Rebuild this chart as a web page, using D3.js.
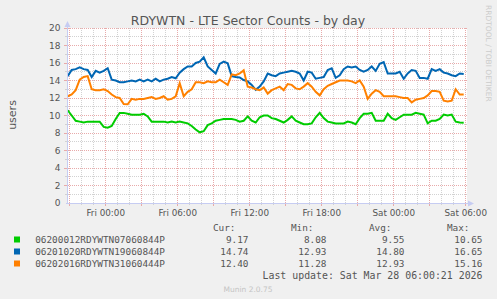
<!DOCTYPE html>
<html>
<head>
<meta charset="utf-8">
<script src="https://cdn.jsdelivr.net/npm/d3@7"></script>
<style>
body { margin: 0; background: #f0f0f0; }
svg { display: block; font-family: "DejaVu Sans", sans-serif; }
</style>
</head>
<body>
<div id="chart"></div>
<script>
// samples every 20 minutes, first one Thu 26 Mar 20:50 UTC
const firstSample = Date.UTC(2026, 2, 26, 20, 50);
const sampleStep = 20 * 60 * 1000;

const seriesNames = ['06200012RDYWTN07060844P', '06201020RDYWTN19060844P', '06202016RDYWTN31060444P'];
const seriesColors = ['#00cc00', '#0066b3', '#ff8000'];

const greenValues = [
    10.6, 10.0, 9.4, 9.3, 9.2, 9.3, 9.3, 9.3, 9.3, 8.7,
    8.6, 8.8, 9.6, 10.3, 10.3, 10.2, 10.1, 10.1, 10.1, 10.2,
    9.9, 9.3, 9.3, 9.3, 9.3, 9.2, 9.3, 9.2, 9.3, 9.2,
    9.1, 8.8, 8.4, 8.08, 8.2, 8.9, 9.1, 9.4, 9.5, 9.6,
    9.6, 9.6, 9.5, 9.3, 9.4, 9.9, 9.4, 9.2, 9.8, 10.0,
    10.0, 9.7, 9.6, 9.4, 9.2, 9.5, 9.9, 9.4, 9.2, 9.0,
    9.0, 9.1, 9.8, 10.3, 9.7, 9.3, 9.2, 9.1, 9.1, 9.1,
    9.3, 9.2, 9.0, 9.7, 10.2, 10.2, 10.3, 9.4, 9.4, 9.4,
    10.2, 9.7, 9.5, 9.8, 10.1, 10.1, 10.1, 10.3, 10.2, 10.1,
    9.1, 9.4, 9.4, 9.6, 10.1, 10.0, 10.1, 9.3, 9.2, 9.17
];

const blueValues = [
    14.5, 15.2, 15.3, 15.5, 15.3, 15.2, 14.4, 15.1, 14.9, 15.1,
    15.4, 14.1, 14.0, 13.8, 13.8, 13.9, 14.0, 13.9, 14.1, 13.9,
    14.1, 13.9, 14.2, 13.9, 14.1, 14.2, 14.4, 14.25, 14.9, 15.3,
    15.6, 15.6, 16.0, 16.15, 16.65, 15.6, 15.2, 14.8, 15.9, 16.15,
    15.96, 14.5, 14.4, 14.35, 14.06, 13.9, 13.5, 12.93, 13.3, 13.9,
    14.8, 14.6, 14.5, 14.8, 14.9, 15.0, 15.1, 15.0, 14.8, 14.0,
    15.0, 14.9, 14.2, 14.3, 14.4, 15.2, 15.4, 14.3, 14.6, 15.3,
    15.6, 15.5, 15.6, 15.2, 15.0, 15.2, 15.6, 15.1, 15.9, 16.1,
    14.8, 14.8, 14.8, 15.0, 14.2, 14.8, 15.2, 15.1, 14.3, 14.3,
    14.2, 15.3, 15.1, 15.3, 14.9, 14.8, 14.6, 14.5, 14.8, 14.74
];

const orangeValues = [
    12.2, 12.4, 12.9, 14.1, 14.4, 14.5, 13.0, 12.9, 12.9, 13.0,
    12.8, 12.4, 12.1, 12.0, 11.3, 11.28, 11.9, 11.8, 11.9, 11.9,
    12.0, 12.1, 11.9, 12.0, 12.2, 11.8, 11.9, 12.2, 13.7, 12.2,
    12.7, 13.0, 13.8, 13.8, 13.7, 13.9, 13.8, 13.8, 14.1, 13.8,
    13.5, 14.7, 14.6, 14.8, 15.16, 13.3, 13.2, 13.0, 12.9, 13.2,
    12.5, 12.9, 13.1, 13.3, 12.9, 13.6, 13.5, 13.1, 13.0, 13.3,
    13.7, 13.3, 12.7, 12.3, 13.0, 13.4, 13.6, 13.8, 14.0, 14.0,
    14.0, 13.9, 13.7, 14.0, 13.3, 11.9, 12.5, 12.9, 12.7, 12.2,
    12.2, 12.2, 12.2, 12.1, 12.0, 12.0, 11.5, 11.8, 11.9, 12.0,
    12.3, 12.8, 12.8, 12.7, 11.7, 11.6, 11.7, 13.0, 12.4, 12.4
];

const legendCur = ['9.17', '14.74', '12.40'];
const legendMin = ['8.08', '12.93', '11.28'];
const legendAvg = ['9.55', '14.80', '12.93'];
const legendMax = ['10.65', '16.65', '15.16'];

const yTickValues = [0, 2, 4, 6, 8, 10, 12, 14, 16, 18, 20];

const svgParams = {
    width: 497,
    height: 299,
    plot: {left: 67, right: 467, top: 28, bottom: 203},
    startTime: new Date(Date.UTC(2026, 2, 26, 20, 46, 30)),
    endTime: new Date(Date.UTC(2026, 2, 28, 6, 6, 30)),
    majorGrid: '#e8aaaa',
    minorGrid: '#d2d2d2',
    axisColor: '#c6ccf2',
    textColor: '#555555'
};

function createSVG(containerId) {
    return d3.select(containerId)
        .append("svg")
        .attr("width", svgParams.width)
        .attr("height", svgParams.height)
        .style("background", "#f0f0f0");
}

function crisp(v) {
    return Math.floor(v) + 0.5;
}

function drawGrid(svg, x, y) {
    const p = svgParams.plot;
    const grid = svg.append("g").attr("shape-rendering", "crispEdges");

    // horizontal: every unit, red every 2
    const yLines = d3.range(1, 21);
    grid.selectAll("line.h")
        .data(yLines)
        .enter().append("line")
        .attr("x1", p.left + 1)
        .attr("x2", p.right)
        .attr("y1", d => crisp(y(d)))
        .attr("y2", d => crisp(y(d)))
        .attr("stroke", d => d % 2 === 0 ? svgParams.majorGrid : svgParams.minorGrid)
        .attr("stroke-dasharray", "1,1");

    // vertical: every hour, red every 3 hours
    const hours = d3.utcHour.range(svgParams.startTime, svgParams.endTime);
    grid.selectAll("line.v")
        .data(hours)
        .enter().append("line")
        .attr("x1", d => crisp(x(d)))
        .attr("x2", d => crisp(x(d)))
        .attr("y1", p.top)
        .attr("y2", p.bottom)
        .attr("stroke", d => d.getUTCHours() % 3 === 0 ? svgParams.majorGrid : svgParams.minorGrid)
        .attr("stroke-dasharray", "1,1");

    // small tick marks under the x axis
    grid.selectAll("line.t")
        .data(hours)
        .enter().append("line")
        .attr("x1", d => crisp(x(d)))
        .attr("x2", d => crisp(x(d)))
        .attr("y1", p.bottom)
        .attr("y2", d => d.getUTCHours() % 3 === 0 ? p.bottom + 3 : p.bottom + 2)
        .attr("stroke", d => d.getUTCHours() % 3 === 0 ? svgParams.majorGrid : svgParams.minorGrid);

    grid.selectAll("line.yt")
        .data(yLines)
        .enter().append("line")
        .attr("x1", d => d % 2 === 0 ? p.left - 3 : p.left - 2)
        .attr("x2", p.left)
        .attr("y1", d => crisp(y(d)))
        .attr("y2", d => crisp(y(d)))
        .attr("stroke", d => d % 2 === 0 ? svgParams.majorGrid : svgParams.minorGrid);
}

function drawAxes(svg, x, y) {
    const p = svgParams.plot;

    // y tick labels
    svg.append("g")
        .selectAll("text")
        .data(yTickValues)
        .enter().append("text")
        .attr("x", 60.5)
        .attr("y", d => y(d))
        .attr("dy", "0.36em")
        .attr("text-anchor", "end")
        .attr("font-size", "9px")
        .attr("fill", svgParams.textColor)
        .text(d => d);

    // x tick labels every 6 hours
    const fmt = d3.utcFormat("%a %H:%M");
    svg.append("g")
        .selectAll("text")
        .data(d3.utcHour.every(6).range(svgParams.startTime, svgParams.endTime))
        .enter().append("text")
        .attr("x", d => x(d))
        .attr("y", 216)
        .attr("text-anchor", "middle")
        .attr("font-size", "8.8px")
        .attr("fill", svgParams.textColor)
        .text(d => fmt(d));

    // axis lines with arrows
    svg.append("line")
        .attr("x1", p.left + 0.5).attr("x2", p.left + 0.5)
        .attr("y1", p.bottom + 1).attr("y2", p.top - 2)
        .attr("stroke", svgParams.axisColor);
    svg.append("line")
        .attr("x1", p.left - 1).attr("x2", p.right + 2)
        .attr("y1", p.bottom + 0.5).attr("y2", p.bottom + 0.5)
        .attr("stroke", svgParams.axisColor);
    svg.append("path")
        .attr("d", `M${p.left - 2.5},${p.top - 1}L${p.left + 3.5},${p.top - 1}L${p.left + 0.5},${p.top - 7}Z`)
        .attr("fill", svgParams.axisColor);
    svg.append("path")
        .attr("d", `M${p.right + 1},${p.bottom - 2.5}L${p.right + 1},${p.bottom + 3.5}L${p.right + 7},${p.bottom + 0.5}Z`)
        .attr("fill", svgParams.axisColor);

    // y-axis label
    svg.append("text")
        .attr("transform", "translate(15.5,115) rotate(-90)")
        .attr("text-anchor", "middle")
        .attr("font-size", "11px")
        .attr("fill", svgParams.textColor)
        .text("users");
}

function drawSeries(svg, x, y) {
    const allSeries = [greenValues, blueValues, orangeValues];
    const line = d3.line()
        .x((d, i) => x(new Date(firstSample + i * sampleStep)))
        .y(d => y(d));

    svg.append("g")
        .selectAll("path")
        .data(allSeries)
        .enter().append("path")
        .attr("d", d => line(d))
        .attr("fill", "none")
        .attr("stroke", (d, i) => seriesColors[i])
        .attr("stroke-width", 2)
        .attr("stroke-linejoin", "miter");
}

function drawLegend(svg) {
    const mono = "'DejaVu Sans Mono', monospace";
    const legend = svg.append("g")
        .attr("font-family", mono)
        .attr("font-size", "9.4px")
        .attr("fill", svgParams.textColor);

    const cols = [
        {label: "Cur:", right: 248.5, values: legendCur},
        {label: "Min:", right: 326.5, values: legendMin},
        {label: "Avg:", right: 404.5, values: legendAvg},
        {label: "Max:", right: 482.5, values: legendMax}
    ];

    cols.forEach(c => {
        legend.append("text")
            .attr("x", c.right - 13)
            .attr("y", 231)
            .attr("text-anchor", "end")
            .text(c.label);
    });

    const rows = legend.selectAll("g.row")
        .data(seriesNames)
        .enter().append("g")
        .attr("transform", (d, i) => `translate(0,${239.5 + i * 12})`);

    rows.append("rect")
        .attr("x", 14)
        .attr("y", -3)
        .attr("width", 6)
        .attr("height", 6)
        .attr("fill", (d, i) => seriesColors[i]);

    rows.append("text")
        .attr("x", 35.2)
        .attr("y", 3.3)
        .text(d => d);

    cols.forEach(c => {
        rows.append("text")
            .attr("x", c.right)
            .attr("y", 3.3)
            .attr("text-anchor", "end")
            .text((d, i) => c.values[i]);
    });

    svg.append("text")
        .attr("x", 482.5)
        .attr("y", 279)
        .attr("text-anchor", "end")
        .attr("font-family", mono)
        .attr("font-size", "9.9px")
        .attr("fill", svgParams.textColor)
        .text("Last update: Sat Mar 28 06:00:21 2026");

    svg.append("text")
        .attr("x", 248)
        .attr("y", 291.5)
        .attr("text-anchor", "middle")
        .attr("font-size", "7.5px")
        .attr("fill", "#c4c4c4")
        .text("Munin 2.0.75");
}

function createChart() {
    const svg = createSVG("#chart");
    const p = svgParams.plot;

    svg.append("rect")
        .attr("x", p.left)
        .attr("y", p.top)
        .attr("width", p.right - p.left)
        .attr("height", p.bottom - p.top)
        .attr("fill", "#ffffff");

    const x = d3.scaleUtc()
        .domain([svgParams.startTime, svgParams.endTime])
        .range([p.left, p.right]);

    const y = d3.scaleLinear()
        .domain([0, 20])
        .range([p.bottom, p.top]);

    drawGrid(svg, x, y);
    drawSeries(svg, x, y);
    drawAxes(svg, x, y);

    // title
    svg.append("text")
        .attr("x", 248)
        .attr("y", 24.5)
        .attr("text-anchor", "middle")
        .attr("font-size", "12.5px")
        .attr("fill", "#555555")
        .text("RDYWTN - LTE Sector Counts - by day");

    // watermark
    svg.append("text")
        .attr("transform", "translate(485.5,5) rotate(90)")
        .attr("font-size", "7.5px")
        .attr("fill", "#cccccc")
        .text("RRDTOOL / TOBI OETIKER");

    drawLegend(svg);
}

document.addEventListener('DOMContentLoaded', createChart);
</script>
</body>
</html>
